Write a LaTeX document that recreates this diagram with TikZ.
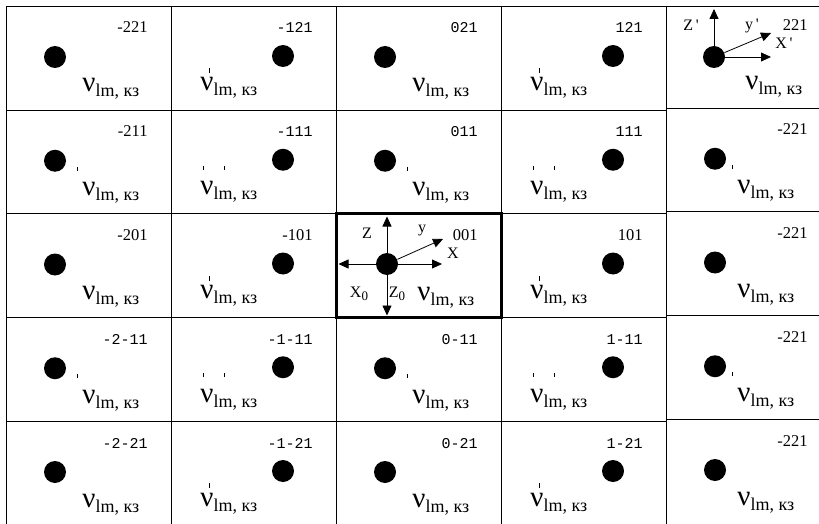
\documentclass[tikz,border=0pt]{standalone}
\usepackage{fontspec}
\setmainfont{Liberation Serif}
\newfontfamily\monofont{Liberation Mono}
\usetikzlibrary{arrows.meta}
\newcommand{\nulm}{{\fontsize{29}{29}\selectfont ν}\raisebox{-5pt}{\fontsize{18}{18}\selectfont lm, кз}}
\newcommand{\pr}{\,\textquotesingle}
\tikzset{
  dot/.style={circle, fill=black, minimum size=22pt, inner sep=0pt},
  lbl/.style={anchor=base east, inner sep=0pt, font=\fontsize{16.5}{16.5}\selectfont},
  lblmono/.style={anchor=base east, inner sep=0pt, font=\monofont\fontsize{15}{15}\selectfont},
  nulbl/.style={anchor=base west, inner sep=0pt},
  axlbl/.style={inner sep=0pt, font=\fontsize{16}{16}\selectfont},
  axis/.style={-{Triangle[length=10pt,width=9pt]}},
}
\begin{document}
\begin{tikzpicture}[x=1pt, y=-1pt, line width=0.8pt]
\useasboundingbox (0,0) rectangle (819,524);
\fill[white] (0,0) rectangle (819,524);

% grid
\draw (6,6) -- (819,6);
\foreach \x in {6,171,336,501,666}
  \draw (\x,6) -- (\x,524);
\foreach \y in {110,213.5,317.25,421} {
  \draw (6,\y) -- (666,\y);
  \draw (666,{\y-2}) -- (819,{\y-2});
}

% ordinary cells
\foreach \c in {0,...,4} {
  \foreach \r in {0,...,4} {
    \pgfmathsetmacro{\xl}{6+165*\c}
    \pgfmathsetmacro{\yt}{6+103.75*\r-2*(\c==4)}
    \pgfmathsetmacro{\nux}{76-5*(\c==4)}
    \pgfmathtruncatemacro{\isaxes}{((\c==2)&&(\r==2))||((\c==4)&&(\r==0))}
    \pgfmathtruncatemacro{\isright}{mod(\c,2)}
    \pgfmathtruncatemacro{\isodd}{mod(\r,2)}
    \ifnum\isaxes=0
      \ifnum\isright=1
        \node[dot] (d\c\r) at (\xl+112,\yt+50) {};
        \node[nulbl] (n\c\r) at (\xl+29,\yt+85) {\nulm};
        \ifnum\isodd=1
          \draw (\xl+32,\yt+56) -- (\xl+32,\yt+60) (\xl+53,\yt+56) -- (\xl+53,\yt+60);
        \else
          \draw (\xl+38,\yt+62) -- (\xl+38,\yt+67);
        \fi
      \else
        \node[dot] (d\c\r) at (\xl+49,\yt+51) {};
        \node[nulbl] (n\c\r) at (\xl+\nux,\yt+86) {\nulm};
        \ifnum\isodd=1
          \draw (\xl+\nux-5,\yt+57) -- (\xl+\nux-5,\yt+61);
        \fi
      \fi
    \fi
  }
}

% cell numbers
\foreach \c/\r/\txt/\sty in {0/0/-221/lbl, 1/0/-121/lblmono, 2/0/021/lblmono, 3/0/121/lblmono, 4/0/221/lbl,
    0/1/-211/lbl, 1/1/-111/lblmono, 2/1/011/lblmono, 3/1/111/lblmono, 4/1/-221/lbl,
    0/2/-201/lbl, 1/2/-101/lbl, 2/2/001/lbl, 3/2/101/lbl, 4/2/-221/lbl,
    0/3/-2-11/lblmono, 1/3/-1-11/lblmono, 2/3/0-11/lblmono, 3/3/1-11/lblmono, 4/3/-221/lbl,
    0/4/-2-21/lblmono, 1/4/-1-21/lblmono, 2/4/0-21/lblmono, 3/4/1-21/lblmono, 4/4/-221/lbl}
  \node[\sty] (l\c\r) at ({6+165*\c+142},{6+103.75*\r+27-2*(\c==4)}) {\txt};

% central cell
\draw[line width=3pt] (336,213.5) rectangle (501,317.25);
\node[dot] (d22) at (387,264) {};
\coordinate (z22) at (387,216.5);
\coordinate (zz22) at (387,315.5);
\coordinate (xx22) at (338.5,264);
\coordinate (x22) at (442,264);
\coordinate (y22) at (443,239);
\draw[axis] (d22) -- (z22);
\draw[axis] (d22) -- (zz22);
\draw[axis] (d22) -- (xx22);
\draw[axis] (d22) -- (x22);
\draw[axis] (d22) -- (y22);
\node[axlbl] (zl22) at (367,233) {Z};
\node[axlbl] (yl22) at (422,231) {y};
\node[axlbl] (xl22) at (453,253) {X};
\node[axlbl] (xxl22) at (359,294) {X{\fontsize{13}{13}\selectfont\raisebox{-3pt}{0}}};
\node[axlbl] (zzl22) at (397,294) {Z{\fontsize{13}{13}\selectfont\raisebox{-3pt}{0}}};
\node[nulbl] (n22) at (417,300) {\nulm};

% corner cell
\node[dot] (d40) at (714,57) {};
\coordinate (z40) at (714,9);
\coordinate (x40) at (771,57);
\coordinate (y40) at (771,33);
\draw[axis] (d40) -- (z40);
\draw[axis] (d40) -- (x40);
\draw[axis] (d40) -- (y40);
\node[axlbl] (zl40) at (691,25) {Z\pr};
\node[axlbl] (yl40) at (752,26) {y\pr};
\node[axlbl] (xl40) at (784,43) {X\pr};
\node[nulbl] (n40) at (745,90) {\nulm};
\end{tikzpicture}
\end{document}
